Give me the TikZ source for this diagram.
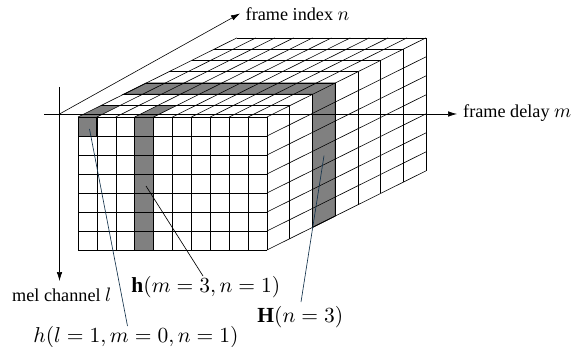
\documentclass[tikz,border=0pt]{standalone}
\usepackage{fontspec}
\setmainfont{Liberation Serif}
\usetikzlibrary{arrows.meta}
\definecolor{leader}{rgb}{0.08,0.2,0.3}
\definecolor{band}{RGB}{128,128,128}
\newcommand{\axisvar}[1]{\scalebox{1.95}{\fontsize{10}{12}\selectfont$#1$}}
\tikzset{
  grid line/.style={line width=0.6pt,black},
  bandfill/.style={fill=band},
  bandedge/.style={line width=0.85pt,line join=miter},
  axis/.style={line width=0.6pt,-{Latex[length=9pt,width=5.5pt]}},
  lead/.style={line width=0.65pt},
  lab/.style={inner sep=0pt,anchor=west,font=\fontsize{18.2}{20}\selectfont},
  mathlab/.style={inner sep=0pt,anchor=west,scale=2.15,font=\fontsize{10}{12}\selectfont},
}
\begin{document}
\begin{tikzpicture}[x=1pt,y=-1pt]
\useasboundingbox (0,0) rectangle (577,347);
\def\dx{22.7}\def\dy{11.3}\def\cw{18.9}\def\rh{19}
% shaded regions
\fill[bandfill] (123.4,94.4) -- (146.1,83.1) -- (335.2,83.1) -- (335.2,216.1) -- (312.5,227.4) -- (312.5,94.4) -- cycle;
\fill[bandfill] (78,117) -- (100.7,105.7) -- (119.6,105.7) -- (96.9,117) -- (96.9,136) -- (78,136) -- cycle;
\fill[bandfill] (134.7,117) -- (157.4,105.7) -- (176.3,105.7) -- (153.6,117) -- (153.6,250) -- (134.7,250) -- cycle;
% front face grid
\foreach \i in {0,...,10} \draw[grid line] (78+\i*\cw,117) -- (78+\i*\cw,250);
\foreach \j in {0,...,7} \draw[grid line] (78,117+\j*\rh) -- (267,117+\j*\rh);
% top face grid
\foreach \i in {0,...,10} \draw[grid line] (78+\i*\cw,117) -- ++(7*\dx,-7*\dy);
\foreach \k in {1,...,7} \draw[grid line] (78+\k*\dx,117-\k*\dy) -- ++(189,0);
% side face grid
\foreach \k in {1,...,7} \draw[grid line] (267+\k*\dx,117-\k*\dy) -- ++(0,133);
\foreach \j in {1,...,7} \draw[grid line] (267,117+\j*\rh) -- ++(7*\dx,-7*\dy);
% heavier outlines of the shaded regions
\draw[bandedge] (123.4,94.4) -- (312.5,94.4) -- (312.5,227.4) -- (335.2,216.1) -- (335.2,83.1) -- (146.1,83.1) -- cycle;
\draw[bandedge] (134.7,117) rectangle (153.6,250);
\draw[bandedge] (78,117) rectangle (96.9,136);
% axes
\coordinate (origin) at (59.5,114);
\coordinate (yfrom) at (59.5,87);
\coordinate (yto) at (59.5,281);
\coordinate (xfrom) at (44,114);
\coordinate (xto) at (457,114);
\coordinate (nto) at (240,13.5);
\draw[axis] (yfrom) -- (yto);
\draw[axis] (xfrom) -- (xto);
\draw[axis] (origin) -- (nto);
% labels
\node[lab] (ln) at (245.5,14) {frame index \axisvar{n}};
\node[lab] (lm) at (463,113.5) {frame delay \axisvar{m}};
\node[lab] (ll) at (12,295) {mel channel \axisvar{l}};
\node[mathlab] (a) at (131,287) {$\mathbf{h}(m=3,n=1)$};
\node[mathlab] (b) at (257,317) {$\mathbf{H}(n=3)$};
\node[mathlab] (c) at (33,337) {$h(l=1,m=0,n=1)$};
% leaders
\coordinate (pa) at (146,186);
\coordinate (pb) at (324,155.7);
\coordinate (pc) at (89.5,129);
\coordinate (ea) at (203,276);
\coordinate (eb) at (301,302);
\coordinate (ec) at (127.5,326);
\draw[lead,black] (pa) -- (ea);
\draw[lead,leader] (pb) -- (eb);
\draw[lead,leader] (pc) -- (ec);
\end{tikzpicture}
\end{document}
